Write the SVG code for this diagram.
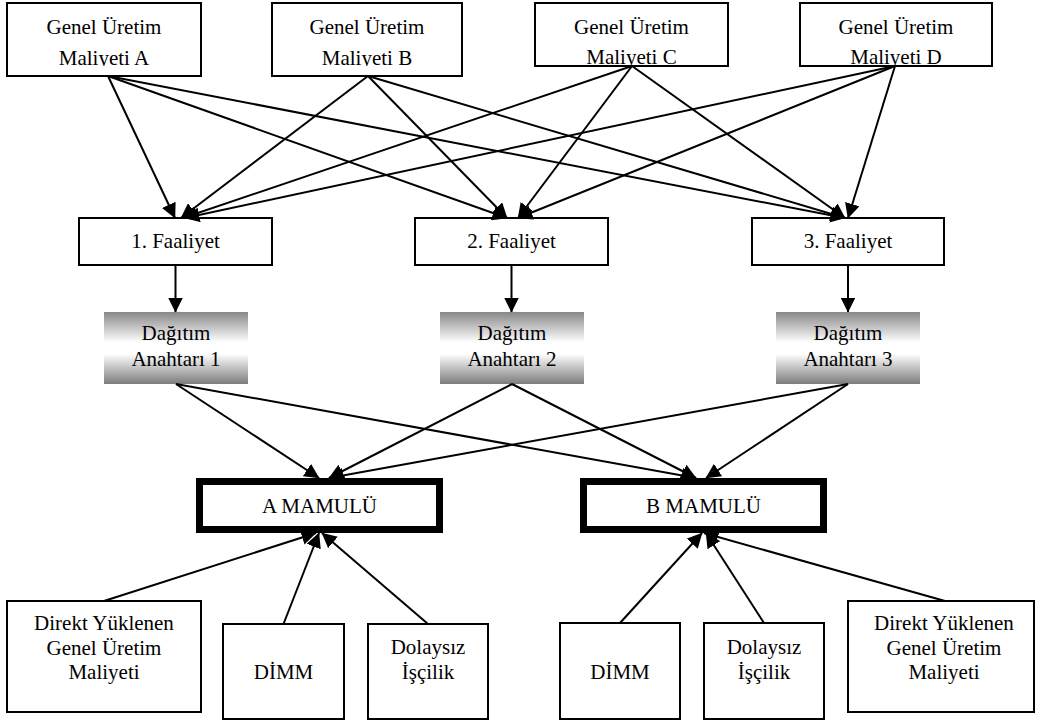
<svg xmlns="http://www.w3.org/2000/svg" width="1037" height="722" viewBox="0 0 1037 722">
<style>
.box{fill:#fff;stroke:#000;stroke-width:2}
.thick{fill:#fff;stroke:#000;stroke-width:7}
.grad{fill:url(#g);stroke:none}
text{font-family:"Liberation Serif","Times New Roman",serif;font-size:21px;fill:#000;text-anchor:middle}
.c line{stroke:#000;stroke-width:2;marker-end:url(#ah)}
</style>
<defs>
<linearGradient id="g" x1="0" y1="0" x2="0" y2="1">
<stop offset="0" stop-color="#878787"/>
<stop offset="0.42" stop-color="#ffffff"/>
<stop offset="0.58" stop-color="#ffffff"/>
<stop offset="1" stop-color="#7c7c7c"/>
</linearGradient>
<marker id="ah" markerUnits="userSpaceOnUse" markerWidth="16" markerHeight="15" refX="14.5" refY="7.5" orient="auto">
<path d="M0,0 L15,7.5 L0,15 z" fill="#000"/>
</marker>
<clipPath id="clipAB"><rect x="0" y="0" width="1037" height="66"/></clipPath>
<clipPath id="clipCD"><rect x="0" y="0" width="1037" height="65"/></clipPath>
</defs>

<g id="n-gum-a"><rect class="box" x="7" y="3" width="194" height="73"/><g clip-path="url(#clipAB)"><text x="104" y="34">Genel Üretim</text><text x="104" y="65">Maliyeti A</text></g></g>
<g id="n-gum-b"><rect class="box" x="272" y="3" width="190" height="73"/><g clip-path="url(#clipAB)"><text x="367" y="34">Genel Üretim</text><text x="367" y="65">Maliyeti B</text></g></g>
<g id="n-gum-c"><rect class="box" x="535" y="3" width="193" height="63"/><g clip-path="url(#clipCD)"><text x="631.5" y="34">Genel Üretim</text><text x="631.5" y="64">Maliyeti C</text></g></g>
<g id="n-gum-d"><rect class="box" x="800" y="3" width="192" height="63"/><g clip-path="url(#clipCD)"><text x="896" y="34">Genel Üretim</text><text x="896" y="64">Maliyeti D</text></g></g>

<g id="n-f1"><rect class="box" x="79" y="218" width="193" height="47"/><text x="175.5" y="248">1. Faaliyet</text></g>
<g id="n-f2"><rect class="box" x="415" y="218" width="193" height="47"/><text x="511.5" y="248">2. Faaliyet</text></g>
<g id="n-f3"><rect class="box" x="752" y="218" width="192" height="47"/><text x="848" y="248">3. Faaliyet</text></g>

<g id="n-d1"><rect class="grad" x="104" y="312" width="144" height="72"/><text x="176" y="340">Dağıtım</text><text x="176" y="366">Anahtarı 1</text></g>
<g id="n-d2"><rect class="grad" x="440" y="312" width="144" height="72"/><text x="512" y="340">Dağıtım</text><text x="512" y="366">Anahtarı 2</text></g>
<g id="n-d3"><rect class="grad" x="776" y="312" width="144" height="72"/><text x="848" y="340">Dağıtım</text><text x="848" y="366">Anahtarı 3</text></g>

<g id="n-ma"><rect class="thick" x="199.5" y="481.5" width="240" height="48"/><text x="319.5" y="513">A MAMULÜ</text></g>
<g id="n-mb"><rect class="thick" x="583.5" y="481.5" width="240" height="48"/><text x="703.5" y="513">B MAMULÜ</text></g>

<g id="n-dy-a"><rect class="box" x="7" y="601" width="194" height="111"/><text x="104" y="630">Direkt Yüklenen</text><text x="104" y="655">Genel Üretim</text><text x="104" y="679">Maliyeti</text></g>
<g id="n-dimm-a"><rect class="box" x="223" y="624" width="121" height="95"/><text x="283.5" y="679">DİMM</text></g>
<g id="n-di-a"><rect class="box" x="368" y="624" width="120" height="95"/><text x="428" y="654">Dolaysız</text><text x="428" y="679">İşçilik</text></g>
<g id="n-dimm-b"><rect class="box" x="560" y="623" width="120" height="96"/><text x="620" y="679">DİMM</text></g>
<g id="n-di-b"><rect class="box" x="704" y="623" width="120" height="96"/><text x="764" y="654">Dolaysız</text><text x="764" y="679">İşçilik</text></g>
<g id="n-dy-b"><rect class="box" x="848" y="601" width="186" height="111"/><text x="944" y="630">Direkt Yüklenen</text><text x="944" y="655">Genel Üretim</text><text x="944" y="679">Maliyeti</text></g>

<g id="connectors" class="c">
<line x1="108" y1="76" x2="175" y2="218"/>
<line x1="108" y1="76" x2="507" y2="218"/>
<line x1="108" y1="76" x2="845" y2="218"/>
<line x1="368" y1="76" x2="181" y2="218"/>
<line x1="368" y1="76" x2="507" y2="218"/>
<line x1="368" y1="76" x2="845" y2="218"/>
<line x1="632" y1="66" x2="183" y2="218"/>
<line x1="632" y1="66" x2="518" y2="218"/>
<line x1="632" y1="66" x2="845" y2="218"/>
<line x1="895" y1="66" x2="185" y2="218"/>
<line x1="895" y1="66" x2="518" y2="218"/>
<line x1="895" y1="66" x2="848" y2="218"/>
<line x1="175.5" y1="265" x2="175.5" y2="312"/>
<line x1="511.5" y1="265" x2="511.5" y2="312"/>
<line x1="848" y1="265" x2="848" y2="312"/>
<line x1="176" y1="384" x2="319" y2="478"/>
<line x1="512" y1="384" x2="329" y2="478"/>
<line x1="848" y1="384" x2="329" y2="478"/>
<line x1="176" y1="384" x2="696" y2="478"/>
<line x1="512" y1="384" x2="696" y2="478"/>
<line x1="848" y1="384" x2="706" y2="478"/>
<line x1="104" y1="601" x2="316" y2="533"/>
<line x1="283.5" y1="624" x2="319" y2="533"/>
<line x1="428" y1="624" x2="322" y2="533"/>
<line x1="620" y1="623" x2="702" y2="533"/>
<line x1="764" y1="623" x2="706" y2="533"/>
<line x1="945" y1="601" x2="704" y2="533"/>
</g>
</svg>
